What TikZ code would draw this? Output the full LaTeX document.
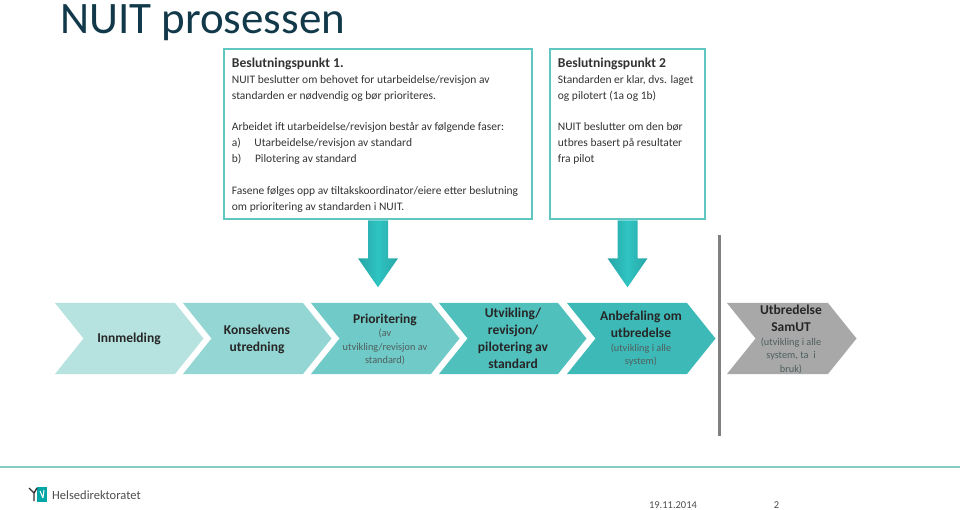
\documentclass[tikz,border=0pt]{standalone}
\usepackage{fontspec}
\setmainfont{Carlito}
\usepackage{xcolor}
\usetikzlibrary{positioning}
\definecolor{tealline}{HTML}{5FC6C0}
\definecolor{footline}{HTML}{86CCC0}
\definecolor{titleblue}{HTML}{12394A}
\definecolor{boxtext}{HTML}{333333}
\definecolor{smalltext}{HTML}{4F5F5F}
\definecolor{chevA}{HTML}{B6E3E0}
\definecolor{chevB}{HTML}{93D6D3}
\definecolor{chevC}{HTML}{70CAC7}
\definecolor{chevD}{HTML}{50C0BD}
\definecolor{chevE}{HTML}{3DBAB7}
\definecolor{chevF}{HTML}{A8A8A8}
\definecolor{pildark}{HTML}{28A5A5}
\definecolor{pillight}{HTML}{2EC4C2}
\newcommand{\stepsmall}[1]{{\fontsize{10.3}{13.5}\selectfont\mdseries\color{smalltext}#1\par}}

\begin{document}
\begin{tikzpicture}[x=1pt,y=-1pt,
    punkt/.style={draw=tealline,line width=2.6pt,fill=white,inner sep=0pt,
        minimum height=170pt},
    punkttext/.style={anchor=north west,inner sep=0pt,align=flush left,text=boxtext,
        font=\fontsize{11.5}{15.85}\selectfont},
    steglabel/.style={inner sep=0pt,align=flush center,text width=110pt,text=black!85,
        font=\fontsize{13.5}{17}\selectfont\bfseries},
    stegline/.style={fill=gray,inner sep=0pt,minimum width=3pt,minimum height=201pt},
    footer/.style={inner sep=0pt,text=black!70,font=\fontsize{10.5}{12}\selectfont}]
    \useasboundingbox (0,0) rectangle (960,510);

    \node[anchor=base west,inner sep=0pt,text=titleblue,font=\fontsize{45}{45}\selectfont]
        (tittel) at (60,34) {NUIT prosessen};

    % the two decision boxes
    \node[punkt,minimum width=308pt] (punkt1) at (378,134) {};
    \node[punkt,minimum width=155pt] (punkt2) at (627.5,134) {};

    \node[punkttext] (tekst1) at ([shift={(9,10)}]punkt1.north west) {%
        {\bfseries\fontsize{13.6}{15.85}\selectfont Beslutningspunkt 1.}\\
        NUIT beslutter om behovet for utarbeidelse/revisjon av\\
        standarden er nødvendig og bør prioriteres.\\[15.85pt]
        Arbeidet ift utarbeidelse/revisjon består av følgende faser:\\
        a)\hspace{11pt} Utarbeidelse/revisjon av standard\\
        b)\hspace{11pt} Pilotering av standard\\[15.85pt]
        Fasene følges opp av tiltakskoordinator/eiere etter beslutning\\
        om prioritering av standarden i NUIT.};
    \node[punkttext] (tekst2) at ([shift={(9,10)}]punkt2.north west) {%
        {\bfseries\fontsize{13.6}{15.85}\selectfont Beslutningspunkt 2}\\
        Standarden er klar, dvs. laget\\
        og pilotert (1a og 1b)\\[15.85pt]
        NUIT beslutter om den bør\\
        utbres basert på resultater\\
        fra pilot};

    % block arrows below the boxes
    \foreach \p in {punkt1,punkt2}
        \shade[left color=pildark,right color=pildark,middle color=pillight]
            ([xshift=-10pt]\p.south) -- ++(0,38) -- ++(-10,0) -- ++(20,29) -- ++(20,-29)
            -- ++(-10,0) -- ([xshift=10pt]\p.south) -- cycle;

    % process chevrons
    \foreach \x/\r/\c in {55/120/chevA,183/120/chevB,311/120/chevC,439/119/chevD,567/120/chevE,727/101/chevF}
        \fill[\c] (\x,303) -- ++(\r,0) -- ++(28.5,35.5) -- ++(-28.5,35.5) -- ++(-\r,0)
            -- ++(28.5,-35.5) -- cycle;

    \node[steglabel] (innmelding) at (129,339) {Innmelding};
    \node[steglabel] (konsekvens) at (257,339) {Konsekvens\\utredning};
    \node[steglabel] (prioritering) at (385,339.5) {Prioritering\\
        \stepsmall{(av\\utvikling/revisjon av\\standard)}};
    \node[steglabel] (utvikling) at (513,338) {Utvikling/\\revisjon/\\pilotering av\\standard};
    \node[steglabel] (anbefaling) at (641,339) {Anbefaling om\\utbredelse\\
        \stepsmall{(utvikling i alle\\system)}};
    \node[steglabel] (utbredelse) at (791,339.5) {Utbredelse\\SamUT\\
        \stepsmall{(utvikling i alle\\system, ta\ \ i\\bruk)}};

    \node[stegline] (skille) at (719,335.5) {};

    % footer
    \draw[footline,line width=2pt] (0,467) -- (960,467);
    \fill[teal!70!cyan] (37,487) rectangle (47,502);
    \draw[white,line width=1pt] (40,491) -- (43,498) (44,490) -- (43,498);
    \draw[black!80,line width=1.4pt] (29,488) -- (34,493) -- (37,488) (34,493) -- (34,501);
    \node[footer,anchor=west,font=\fontsize{12.5}{12}\selectfont] (logotekst) at (52,495) {Helsedirektoratet};
    \node[footer] (dato) at (673,505) {19.11.2014};
    \node[footer] (sidetall) at (776.5,505) {2};
\end{tikzpicture}
\end{document}
